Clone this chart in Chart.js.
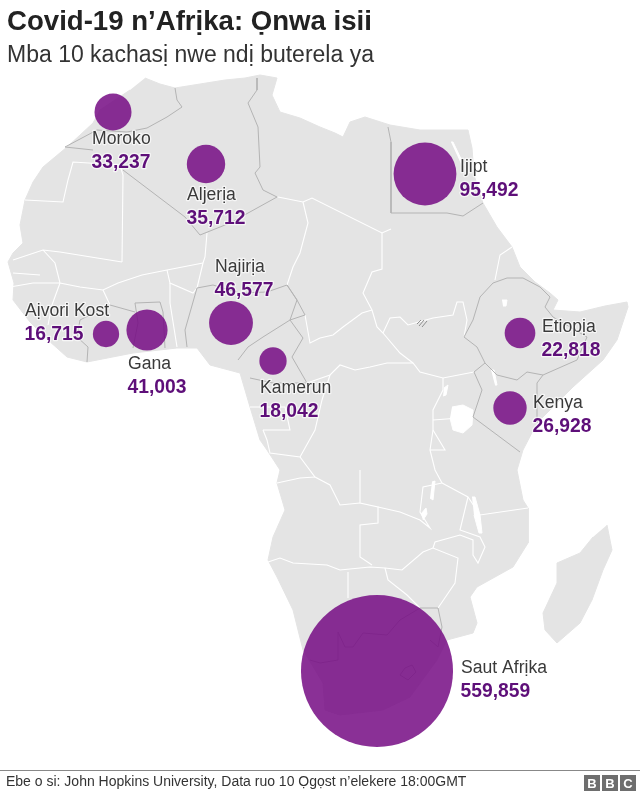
<!DOCTYPE html>
<html><head><meta charset="utf-8">
<style>html,body{margin:0;padding:0;background:#fff}#w{position:relative;width:640px;height:793px}canvas{display:block}</style>
<script src="https://cdn.jsdelivr.net/npm/chart.js@4/dist/chart.umd.min.js"></script>
</head><body><div id="w"><canvas id="c" width="640" height="793"></canvas></div>
<script>
const titleText = "Covid-19 n’Afrịka: Ọnwa isii";
const subtitleText = "Mba 10 kachasị nwe ndị buterela ya";
const sourceText = "Ebe o si: John Hopkins University, Data ruo 10 Ọgọst n’elekere 18:00GMT";
const countries = ["Moroko","Aljerịa","Ijipt","Najirịa","Aịvori Kost","Gana","Kamerun","Etiopịa","Kenya","Saut Afrịka"];
const cases = [33237,35712,95492,46577,16715,41003,18042,22818,26928,559859];
const mapX = [113,206,425,231,106,147,273,520,510,377];
const mapY = [112,164,174,323,334,330,361,333,408,671];

const coast = [[145,78],[160,84],[175,88],[200,84],[225,80],[245,78],[260,75],[277,78],[272,95],[280,112],[300,118],[320,127],[335,133],[343,137],[350,122],[365,117],[390,125],[420,130],[450,130],[468,130],[472,148],[474,175],[483,203],[497,227],[512,247],[520,267],[535,282],[550,293],[558,300],[553,310],[580,312],[605,306],[627,302],[628,307],[617,340],[603,360],[573,387],[537,423],[523,450],[517,470],[523,500],[528,508],[528,543],[513,567],[477,587],[470,597],[477,623],[473,633],[447,640],[437,660],[410,697],[383,710],[340,715],[325,710],[323,683],[303,650],[293,610],[277,577],[268,560],[273,537],[285,510],[277,483],[280,470],[267,450],[260,440],[250,407],[240,373],[210,365],[197,348],[177,348],[133,353],[87,362],[67,357],[48,340],[30,322],[13,300],[14,283],[8,262],[13,253],[23,243],[20,225],[25,200],[33,182],[43,167],[67,147],[93,123],[100,110],[130,90]];
const madagascar = [[607,525],[612,550],[603,570],[592,600],[580,623],[557,643],[545,630],[543,613],[557,583],[557,563],[580,553],[593,537]];
const lakes = [
 [[452,407],[463,405],[473,410],[472,425],[463,433],[453,430],[450,418]],
 [[451,142],[453,142],[464,165],[462,166]],
 [[491,370],[494,370],[497,385],[495,385]],
 [[472,497],[475,497],[480,515],[482,533],[479,533],[474,515]],
 [[432,482],[435,481],[433,500],[430,498]],
 [[421,514],[426,508],[427,514],[423,520]],
 [[502,300],[507,300],[506,306],[503,306]],
 [[444,388],[448,385],[446,395],[443,396]]
];
const whiteBorders = [
 [[25,200],[63,202],[68,180],[73,162],[120,165],[123,175],[122,262]],
 [[13,260],[43,250],[60,252],[122,262]],
 [[43,250],[55,263],[60,283],[80,287],[103,290],[118,283],[142,275],[167,270],[203,263]],
 [[207,233],[205,257],[203,263],[197,288]],
 [[10,287],[33,283],[60,283]],
 [[13,273],[40,275]],
 [[60,283],[52,305],[48,325]],
 [[167,270],[170,283],[193,293],[197,288]],
 [[103,290],[110,305]],
 [[170,283],[170,303],[177,347]],
 [[278,197],[303,202],[312,198],[382,233],[391,229]],
 [[303,202],[308,223],[300,253],[293,267],[287,285]],
 [[382,233],[382,269],[372,272],[363,293],[372,310],[377,327],[383,333],[400,353],[413,363],[420,372],[443,378],[474,372]],
 [[320,338],[333,335],[343,327],[362,313],[372,310]],
 [[305,315],[310,343],[320,338]],
 [[307,383],[330,375],[340,365],[355,370],[370,367],[387,363],[413,363]],
 [[383,333],[390,318],[400,317],[408,325],[433,318],[453,315],[457,302],[463,302],[467,320],[464,337]],
 [[512,247],[500,255],[495,280]],
 [[443,378],[443,390],[433,410],[433,430],[430,450],[435,470],[442,483]],
 [[433,420],[473,417]],
 [[442,483],[468,497],[480,515],[528,508]],
 [[468,497],[460,530],[480,537],[485,547],[478,563],[473,555],[473,540],[460,535],[435,542],[433,548]],
 [[360,470],[360,503],[378,507],[378,523],[360,525],[360,557],[372,565]],
 [[378,507],[400,512],[420,520],[430,528],[420,512],[423,487],[442,483]],
 [[268,562],[280,558],[293,563],[327,565],[340,570],[370,567],[385,568],[402,570],[423,552],[433,548],[458,558],[455,583],[438,608]],
 [[348,572],[348,598]],
 [[385,568],[388,580],[407,595],[420,608]],
 [[263,430],[267,440],[270,453],[300,457],[315,477],[330,485],[340,505],[360,503]],
 [[277,483],[300,478],[315,477]],
 [[330,375],[322,400],[315,430],[300,457]],
 [[250,407],[285,407],[290,430],[263,430]],
 [[430,450],[445,450],[433,430]]
];
const greyBorders = [
 [[175,88],[177,100],[182,107],[167,117],[147,128],[127,132],[97,130],[65,147],[93,150]],
 [[257,78],[257,90],[248,103],[258,127],[260,167],[255,173],[263,190],[277,197],[230,223],[200,235],[185,217],[123,170]],
 [[388,127],[391,142],[391,213],[447,213],[463,216],[483,203]],
 [[507,278],[523,278],[540,287],[550,297],[545,307],[553,317],[587,337],[577,360],[543,375],[527,372],[517,380],[497,375],[485,363],[477,347],[464,337],[473,320],[480,297],[493,283],[507,278]],
 [[485,363],[474,372],[482,390],[473,417],[520,452]],
 [[537,423],[537,383],[543,375]],
 [[187,347],[185,330],[197,288],[213,285],[240,293],[267,292],[287,285],[297,300],[290,320],[263,337],[248,347],[238,360]],
 [[287,285],[297,300],[305,315],[290,320],[303,338],[292,357],[307,383],[273,383],[250,378]],
 [[135,303],[160,302],[163,312],[165,348]],[[135,303],[138,323],[133,348]],
 [[87,362],[88,347],[77,337],[80,320],[110,305],[135,312]],
 [[310,660],[320,663],[338,660],[338,632],[345,647],[353,647],[363,633],[387,635],[400,620],[420,608],[438,608],[442,627],[438,647],[430,640]],
 [[405,668],[412,665],[416,672],[408,680],[400,675],[405,668]]
];
const disputedHatch = [[[417,324],[421,320]],[[419,326],[424,320]],[[422,327],[427,321]]];

const nameOffsets = [[-21,27],[-19,31],[35,-7],[-16,-56],[-81,-23],[-19,34],[-13,27],[22,-6],[23,-5],[84,-3]];
const valueGap = 23;

const asPts = a => a.map(p => ({x:p[0],y:p[1]}));
const polyDs = (pts,color,order) => ({type:'scatter',showLine:true,fill:'shape',data:asPts(pts),backgroundColor:color,borderColor:color,borderWidth:1,pointRadius:0,order,tension:0});
const lineDs = (pts,color,w,order) => ({type:'scatter',showLine:true,fill:false,data:asPts(pts),borderColor:color,borderWidth:w,pointRadius:0,order,tension:0});

const textPlugin = {
 id:'text',
 afterDatasetsDraw(chart){
  const c = chart.ctx, xs = chart.scales.x, ys = chart.scales.y;
  c.save();
  c.textBaseline='middle'; c.textAlign='left'; c.lineJoin='round';
  countries.forEach((n,i)=>{
   const lx = xs.getPixelForValue(mapX[i]) + nameOffsets[i][0];
   const ly = ys.getPixelForValue(mapY[i]) + nameOffsets[i][1] + 0.5;
   c.font='17.6px "Liberation Sans"';
   c.strokeStyle='rgba(255,255,255,.65)'; c.lineWidth=2.5;
   c.strokeText(n,lx,ly);
   c.fillStyle='#3a3a3a'; c.fillText(n,lx,ly);
   const v = cases[i].toLocaleString('en-US');
   c.font='bold 19.3px "Liberation Sans"';
   c.strokeText(v,lx-0.5,ly+valueGap);
   c.fillStyle='#5e0f79'; c.fillText(v,lx-0.5,ly+valueGap);
  });
  c.textBaseline='alphabetic';
  c.fillStyle='#222'; c.font='bold 27.6px "Liberation Sans"'; c.fillText(titleText,7,30);
  c.fillStyle='#333'; c.font='23px "Liberation Sans"'; c.fillText(subtitleText,7,62);
  c.fillStyle='#888'; c.fillRect(0,770,640,1);
  c.fillStyle='#333'; c.font='14px "Liberation Sans"'; c.fillText(sourceText,6,786);
  ["B","B","C"].forEach((l,i)=>{
   const x = 584+i*18;
   c.fillStyle='#6e6e6e'; c.fillRect(x,775,16,16);
   c.fillStyle='#fff'; c.font='bold 13px "Liberation Sans"'; c.textAlign='center';
   c.fillText(l,x+8,788); c.textAlign='left';
  });
  c.restore();
 }
};

new Chart(document.getElementById('c'),{
 type:'bubble',
 data:{datasets:[
  {type:'bubble',label:'Cases',order:0,
   data:countries.map((n,i)=>({x:mapX[i],y:mapY[i],r:Math.sqrt(cases[i])*0.1016})),
   backgroundColor:'rgba(118,12,132,.85)',borderWidth:0,hoverBorderWidth:0},
  ...greyBorders.map(p=>lineDs(p,'#b4b4b4',1,1)),
  ...disputedHatch.map(p=>lineDs(p,'#777777',0.8,1)),
  ...lakes.map(p=>polyDs(p,'#ffffff',2)),
  ...whiteBorders.map(p=>lineDs(p,'#ffffff',1.1,3)),
  polyDs(coast,'#e4e4e4',4),
  polyDs(madagascar,'#e4e4e4',4)
 ]},
 options:{
  responsive:false,animation:false,
  layout:{padding:0,autoPadding:false},
  plugins:{legend:{display:false},tooltip:{enabled:false},title:{display:false}},
  scales:{
   x:{type:'linear',min:0,max:640,display:false},
   y:{type:'linear',min:0,max:793,reverse:true,display:false}
  },
  events:[]
 },
 plugins:[textPlugin]
});
</script></body></html>
